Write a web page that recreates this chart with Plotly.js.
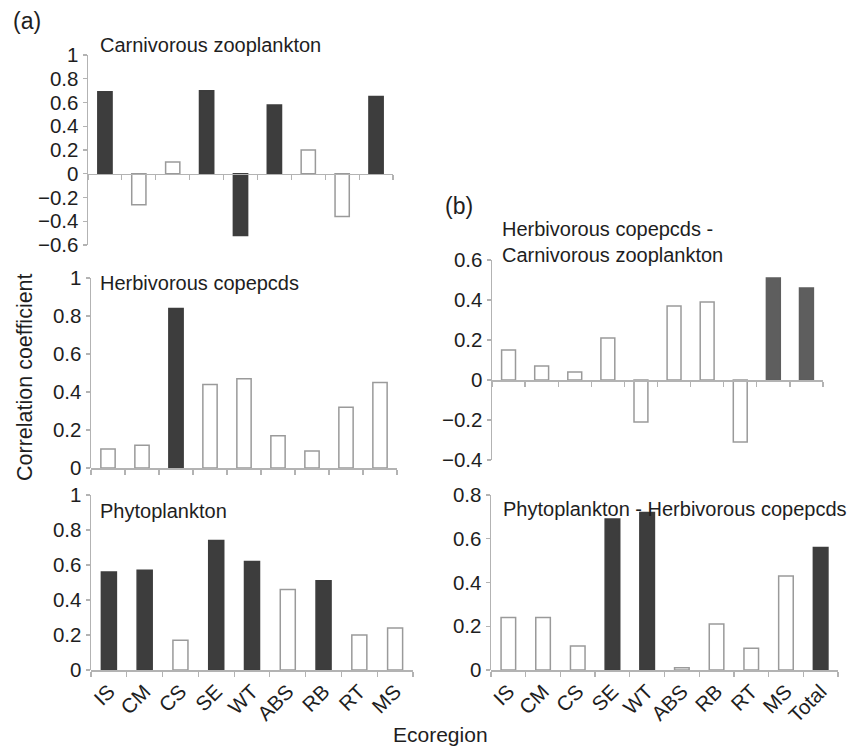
<!DOCTYPE html>
<html>
<head>
<meta charset="utf-8">
<script src="https://cdn.plot.ly/plotly-3.0.1.min.js"></script>
<style>html,body{margin:0;padding:0;background:#fff;}#chart{width:848px;height:747px;}</style>
</head>
<body>
<div id="chart"></div>
<script>
// ---- data ----
const regionsA = ["IS", "CM", "CS", "SE", "WT", "ABS", "RB", "RT", "MS"];
const regionsB = ["IS", "CM", "CS", "SE", "WT", "ABS", "RB", "RT", "MS", "Total"];

const carnivorous = [0.69, -0.26, 0.10, 0.70, -0.52, 0.58, 0.20, -0.36, 0.65];
const carnivorousSig = [1, 0, 0, 1, 1, 1, 0, 0, 1];

const herbivorous = [0.10, 0.12, 0.84, 0.44, 0.47, 0.17, 0.09, 0.32, 0.45];
const herbivorousSig = [0, 0, 1, 0, 0, 0, 0, 0, 0];

const phyto = [0.56, 0.57, 0.17, 0.74, 0.62, 0.46, 0.51, 0.20, 0.24];
const phytoSig = [1, 1, 0, 1, 1, 0, 1, 0, 0];

const herbCarn = [0.15, 0.07, 0.04, 0.21, -0.21, 0.37, 0.39, -0.31, 0.51, 0.46];
const herbCarnSig = [0, 0, 0, 0, 0, 0, 0, 0, 1, 1];

const phytoHerb = [0.24, 0.24, 0.11, 0.69, 0.72, 0.01, 0.21, 0.10, 0.43, 0.56];
const phytoHerbSig = [0, 0, 0, 1, 1, 0, 0, 0, 0, 1];

// ---- layout helpers ----
const W = 848, H = 747;
const px = x => x / W;
const py = y => 1 - y / H;
const FONT = "Liberation Sans, Arial, sans-serif";
const AXC = "#b3b3b3";
const TXT = "#1e1e1e";
const TICKSIZE = 20.5;

const panels = [
  {id: "", cats: regionsA, vals: carnivorous, sig: carnivorousSig, dark: "#3d3d3d",
   xd: [88, 393], yd: [245, 55], range: [-0.6, 1], labels: false},
  {id: "2", cats: regionsA, vals: herbivorous, sig: herbivorousSig, dark: "#3d3d3d",
   xd: [91, 397], yd: [468, 278], range: [0, 1], labels: false},
  {id: "3", cats: regionsA, vals: phyto, sig: phytoSig, dark: "#3d3d3d",
   xd: [91, 413], yd: [670, 495], range: [0, 1], labels: true},
  {id: "4", cats: regionsB, vals: herbCarn, sig: herbCarnSig, dark: "#5e5e5e",
   xd: [492, 823], yd: [460, 260], range: [-0.4, 0.6], labels: false},
  {id: "5", cats: regionsB, vals: phytoHerb, sig: phytoHerbSig, dark: "#3d3d3d",
   xd: [491, 838], yd: [670, 495], range: [0, 0.8], labels: true}
];

const data = [];
const layout = {
  width: W, height: H,
  margin: {l: 0, r: 0, t: 0, b: 0},
  paper_bgcolor: "#fff", plot_bgcolor: "rgba(0,0,0,0)",
  showlegend: false,
  font: {family: FONT, color: TXT, size: 20},
  annotations: []
};

panels.forEach(p => {
  const xa = "x" + p.id, ya = "y" + p.id;
  data.push({
    type: "bar",
    x: p.cats, y: p.vals,
    xaxis: xa, yaxis: ya,
    width: 0.42,
    marker: {
      color: p.sig.map(s => s ? p.dark : "#ffffff"),
      line: {color: p.sig.map(s => s ? p.dark : "#9a9a9a"), width: 1.5}
    },
    hoverinfo: "x+y"
  });
  const yDom = [py(p.yd[0]), py(p.yd[1])];
  const zeroPos = yDom[0] + (0 - p.range[0]) / (p.range[1] - p.range[0]) * (yDom[1] - yDom[0]);
  layout["xaxis" + p.id] = {
    type: "category",
    categoryorder: "array", categoryarray: p.cats,
    range: [-0.5, p.cats.length - 0.5],
    domain: [px(p.xd[0]), px(p.xd[1])],
    anchor: "free", position: zeroPos,
    showline: true, linecolor: AXC, linewidth: 1.5,
    ticks: "outside", tickson: "boundaries", ticklen: 5, tickcolor: AXC, tickwidth: 1.2,
    showgrid: false, zeroline: false,
    showticklabels: p.labels, tickangle: -45,
    tickfont: {family: FONT, size: TICKSIZE, color: TXT},
    fixedrange: true
  };
  layout["yaxis" + p.id] = {
    domain: yDom,
    anchor: xa,
    range: p.range,
    tick0: 0, dtick: 0.2,
    showline: true, linecolor: AXC, linewidth: 1.5,
    ticks: "outside", ticklen: 4, tickcolor: AXC, tickwidth: 1.2,
    showgrid: false, zeroline: false,
    tickfont: {family: FONT, size: TICKSIZE, color: TXT},
    fixedrange: true
  };
});

function note(text, x, y, size, opts) {
  layout.annotations.push(Object.assign({
    text: text, xref: "paper", yref: "paper", x: px(x), y: py(y),
    xanchor: "left", yanchor: "middle", showarrow: false, align: "left",
    font: {family: FONT, size: size, color: TXT}
  }, opts || {}));
}

note("(a)", 11, 21, 23);
note("(b)", 443, 206, 23);
note("Carnivorous zooplankton", 98, 45, 20);
note("Herbivorous copepcds", 98, 283, 20);
note("Phytoplankton", 98, 511, 20);
note("Herbivorous copepcds -<br>Carnivorous zooplankton", 500, 242, 20);
note("Phytoplankton - Herbivorous copepcds", 501, 509, 20);
note("Correlation coefficient", 25, 377, 21.5, {textangle: -90, xanchor: "center"});
note("Ecoregion", 440, 734, 21, {xanchor: "center"});

Plotly.newPlot("chart", data, layout, {displayModeBar: false, staticPlot: true});
</script>
</body>
</html>
